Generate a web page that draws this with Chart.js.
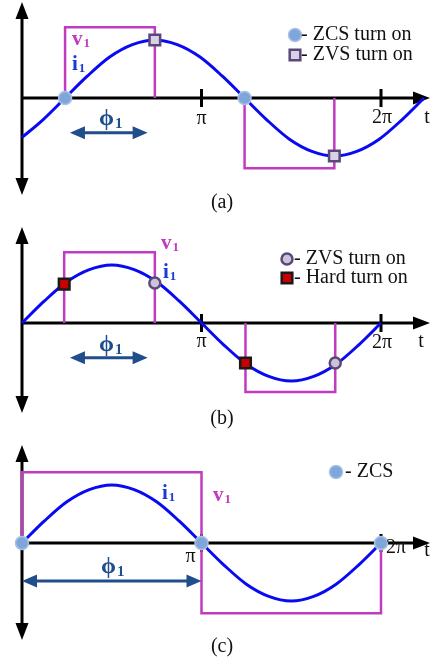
<!DOCTYPE html>
<html>
<head>
<meta charset="utf-8">
<title>Turn-on conditions</title>
<script src="https://cdn.jsdelivr.net/npm/chart.js"></script>
<style>
  body { margin: 0; background: #fff; }
  #wrap { position: relative; width: 433px; height: 661px; }
  #wrap canvas { position: absolute; left: 0; }
</style>
</head>
<body>
<div id="wrap">
  <canvas id="chartA" width="433" height="216" style="top:0px"></canvas>
  <canvas id="chartB" width="433" height="214" style="top:216px"></canvas>
  <canvas id="chartC" width="433" height="231" style="top:430px"></canvas>
</div>
<script>
// time is in multiples of pi, amplitudes are relative to the current peak
const tSine = [0, 0.125, 0.25, 0.375, 0.5, 0.625, 0.75, 0.875, 1, 1.125, 1.25, 1.375, 1.5, 1.625, 1.75, 1.875, 2];
const iSine = [0, 0.38, 0.71, 0.92, 1, 0.92, 0.71, 0.38, 0, -0.38, -0.71, -0.92, -1, -0.92, -0.71, -0.38, 0];

// (a) current lagging the voltage
const tCurA = [0, 0.115, 0.24, 0.365, 0.49, 0.615, 0.74, 0.865, 0.99, 1.115, 1.24, 1.365, 1.49, 1.615, 1.74, 1.865, 1.99, 2.115, 2.24];
const iCurA = [-0.68, -0.38, 0, 0.38, 0.71, 0.92, 1, 0.92, 0.71, 0.38, 0, -0.38, -0.71, -0.92, -1, -0.92, -0.71, -0.38, 0];

// square voltage v1 (null breaks the line between pulses)
const tVoltA = [0.24, 0.24, 0.74, 0.74, 0.99, 1.24, 1.24, 1.74, 1.74];
const vVoltA = [0, 1.22, 1.22, 0, null, 0, -1.21, -1.21, 0];
const tVoltB = [0.235, 0.235, 0.74, 0.74, 0.99, 1.245, 1.245, 1.745, 1.745];
const vVoltB = [0, 1.22, 1.22, 0, null, 0, -1.19, -1.19, 0];
const tVoltC = [0, 0, 1, 1, 2, 2];
const vVoltC = [0, 1.22, 1.22, -1.21, -1.21, 0];

// switching events
const tZcsA = [0.24, 1.24];
const yZcsA = [0, 0];
const tZvsA = [0.74, 1.74];
const yZvsA = [1, -1];
const tHardB = [0.235, 1.245];
const yHardB = [0.67, -0.69];
const tZvsB = [0.74, 1.745];
const yZvsB = [0.69, -0.69];
const tZcsC = [0, 1, 2];
const yZcsC = [0, 0, 0];

const tickPos = [1, 2];
const tickText = ['π', '2π'];

const PX = 58;          // pixels per unit amplitude
const PX_PI = 179.5;    // pixels per pi on the time axis
const SERIF = '"Liberation Serif", "Times New Roman", serif';
const BLUE = '#0a0af2';
const MAGENTA = '#c13bc1';
const NAVY = '#1f4e8a';
const LABEL_BLUE = '#1a3ad8';

function pts(ts, ys) {
  return ts.map((t, k) => ({ x: t, y: ys[k] }));
}

const styles = {
  zcs: { pointStyle: 'circle', pointRadius: 6.5, backgroundColor: '#7ea6da', borderColor: '#a9c2e4', borderWidth: 1.5 },
  zvsSq: { pointStyle: 'rect', pointRadius: 7.5, backgroundColor: '#d9d1e6', borderColor: '#5a4878', borderWidth: 2.5 },
  zvsCirc: { pointStyle: 'circle', pointRadius: 5.5, backgroundColor: '#cbc3da', borderColor: '#5a4878', borderWidth: 2.5 },
  hard: { pointStyle: 'rect', pointRadius: 7.5, backgroundColor: '#c80000', borderColor: '#1a1a1a', borderWidth: 2.5 }
};

function markers(ts, ys, st) {
  return Object.assign({ data: pts(ts, ys), showLine: false, clip: false,
    pointBorderWidth: st.borderWidth, pointBackgroundColor: st.backgroundColor,
    pointBorderColor: st.borderColor }, st);
}
function current(ts, ys) {
  return { data: pts(ts, ys), borderColor: BLUE, borderWidth: 3, pointRadius: 0,
    cubicInterpolationMode: 'monotone', clip: false };
}
function voltage(ts, ys) {
  return { data: pts(ts, ys), borderColor: MAGENTA, borderWidth: 2.5, pointRadius: 0,
    tension: 0, spanGaps: false, clip: false };
}

function head(ctx, x, y, angle, len, half) {
  ctx.save();
  ctx.translate(x, y);
  ctx.rotate(angle);
  ctx.beginPath();
  ctx.moveTo(0, 0);
  ctx.lineTo(-len, -half);
  ctx.lineTo(-len, half);
  ctx.closePath();
  ctx.fill();
  ctx.restore();
}

function sub(ctx, main, s, x, y, color, size, bold) {
  const w = bold ? 'bold ' : '';
  ctx.fillStyle = color;
  ctx.textAlign = 'left';
  ctx.textBaseline = 'alphabetic';
  ctx.font = w + size + 'px ' + SERIF;
  ctx.fillText(main, x, y);
  const mw = ctx.measureText(main).width;
  ctx.font = w + Math.round(size * 0.62) + 'px ' + SERIF;
  ctx.fillText(s, x + mw + 1, y + size * 0.1);
}

function phiArrow(ctx, x1, x2, y) {
  ctx.strokeStyle = NAVY;
  ctx.fillStyle = NAVY;
  ctx.lineWidth = 3;
  ctx.beginPath();
  ctx.moveTo(x1 + 10, y);
  ctx.lineTo(x2 - 10, y);
  ctx.stroke();
  head(ctx, x1, y, Math.PI, 15, 6.5);
  head(ctx, x2, y, 0, 15, 6.5);
}

function text(ctx, s, x, y, size, align) {
  ctx.fillStyle = '#111';
  ctx.font = size + 'px ' + SERIF;
  ctx.textAlign = align || 'center';
  ctx.textBaseline = 'middle';
  ctx.fillText(s, x, y);
}

function legendMark(ctx, st, x, y) {
  ctx.save();
  ctx.fillStyle = st.backgroundColor;
  ctx.strokeStyle = st.borderColor;
  ctx.lineWidth = st.borderWidth;
  ctx.beginPath();
  if (st.pointStyle === 'rect') {
    const h = st.pointRadius * Math.SQRT1_2;
    ctx.rect(x - h, y - h, 2 * h, 2 * h);
  } else {
    ctx.arc(x, y, st.pointRadius, 0, Math.PI * 2);
  }
  ctx.fill();
  ctx.stroke();
  ctx.restore();
}

function panel(id, geo, datasets, decorate) {
  return new Chart(document.getElementById(id), {
    type: 'line',
    data: { datasets },
    options: {
      responsive: false,
      animation: false,
      events: [],
      layout: { autoPadding: false, padding: { left: 22, right: 3, top: geo.top, bottom: geo.bottom } },
      scales: {
        x: { type: 'linear', min: 0, max: 408 / PX_PI, display: false },
        y: { type: 'linear', min: -geo.down / PX, max: geo.up / PX, display: false }
      },
      plugins: { legend: { display: false }, tooltip: { enabled: false } }
    },
    plugins: [{
      id: 'axes',
      beforeDatasetsDraw(chart) {
        const ctx = chart.ctx, a = chart.chartArea;
        const X = v => chart.scales.x.getPixelForValue(v);
        const y0 = chart.scales.y.getPixelForValue(0);
        const x0 = X(0);
        ctx.save();
        ctx.strokeStyle = '#000';
        ctx.fillStyle = '#000';
        ctx.lineWidth = 3;
        ctx.beginPath();
        ctx.moveTo(x0, y0);
        ctx.lineTo(a.right - 12, y0);
        ctx.moveTo(x0, a.top + 12);
        ctx.lineTo(x0, a.bottom - 12);
        tickPos.forEach(t => {
          ctx.moveTo(X(t), y0 - 9);
          ctx.lineTo(X(t), y0 + 9);
        });
        ctx.stroke();
        head(ctx, a.right, y0, 0, 17, 6.5);
        head(ctx, x0, a.top, -Math.PI / 2, 17, 6.5);
        head(ctx, x0, a.bottom, Math.PI / 2, 17, 6.5);
        ctx.restore();
      },
      afterDatasetsDraw(chart) {
        const ctx = chart.ctx;
        const X = v => chart.scales.x.getPixelForValue(v);
        const Y = v => chart.scales.y.getPixelForValue(v);
        ctx.save();
        decorate(ctx, X, Y);
        ctx.restore();
      }
    }]
  });
}

// (a) ZCS and ZVS turn on
panel('chartA', { top: 2, bottom: 21, up: 96, down: 97 }, [
  markers(tZcsA, yZcsA, styles.zcs),
  markers(tZvsA, yZvsA, styles.zvsSq),
  current(tCurA, iCurA),
  voltage(tVoltA, vVoltA)
], (ctx, X, Y) => {
  sub(ctx, 'v', '1', 72, Y(0.91), MAGENTA, 21, true);
  sub(ctx, 'i', '1', 72, Y(0.48), LABEL_BLUE, 21, true);
  sub(ctx, 'ϕ', '1', 99, Y(-0.47), NAVY, 24, true);
  phiArrow(ctx, X(0.267), X(0.70), Y(-0.6));
  text(ctx, tickText[0], X(1), Y(0) + 21, 20);
  text(ctx, tickText[1], X(2) + 1, Y(0) + 20, 20);
  text(ctx, 't', 427, Y(0) + 20, 20);
  legendMark(ctx, styles.zcs, 295, 35);
  legendMark(ctx, styles.zvsSq, 295, 55);
  text(ctx, '- ZCS turn on', 301, 35, 20, 'left');
  text(ctx, '- ZVS turn on', 301, 55, 20, 'left');
  text(ctx, '(a)', 222, 203, 20);
});

// (b) ZVS and hard turn on
panel('chartB', { top: 11, bottom: 17, up: 96, down: 90 }, [
  markers(tHardB, yHardB, styles.hard),
  markers(tZvsB, yZvsB, styles.zvsCirc),
  current(tSine, iSine),
  voltage(tVoltB, vVoltB)
], (ctx, X, Y) => {
  sub(ctx, 'v', '1', 161, Y(1.28), MAGENTA, 21, true);
  sub(ctx, 'i', '1', 163, Y(0.78), LABEL_BLUE, 21, true);
  sub(ctx, 'ϕ', '1', 99, Y(-0.49), NAVY, 24, true);
  phiArrow(ctx, X(0.267), X(0.70), Y(-0.6));
  text(ctx, tickText[0], X(1), Y(0) + 19, 20);
  text(ctx, tickText[1], X(2) + 1, Y(0) + 20, 20);
  text(ctx, 't', 421, Y(0) + 19, 20);
  legendMark(ctx, styles.zvsCirc, 287, 43);
  legendMark(ctx, styles.hard, 287, 62);
  text(ctx, '- ZVS turn on', 294, 43, 20, 'left');
  text(ctx, '- Hard turn on', 294, 62, 20, 'left');
  text(ctx, '(b)', 222, 203, 20);
});

// (c) ZCS at every edge
panel('chartC', { top: 15, bottom: 21, up: 98, down: 97 }, [
  markers(tZcsC, yZcsC, styles.zcs),
  current(tSine, iSine),
  voltage(tVoltC, vVoltC)
], (ctx, X, Y) => {
  sub(ctx, 'i', '1', 162, Y(0.76), LABEL_BLUE, 21, true);
  sub(ctx, 'v', '1', 213, Y(0.72), MAGENTA, 21, true);
  sub(ctx, 'ϕ', '1', 101, Y(-0.52), NAVY, 24, true);
  phiArrow(ctx, X(0), X(1), Y(-0.655));
  text(ctx, tickText[0], X(1) - 11, Y(0) + 14, 20);
  text(ctx, tickText[1], X(2) + 15, Y(0) + 5, 20);
  text(ctx, 't', 427, Y(0) + 8, 20);
  legendMark(ctx, styles.zcs, 336, 42);
  text(ctx, '- ZCS', 345, 42, 20, 'left');
  text(ctx, '(c)', 222, 217, 20);
});
</script>
</body>
</html>
